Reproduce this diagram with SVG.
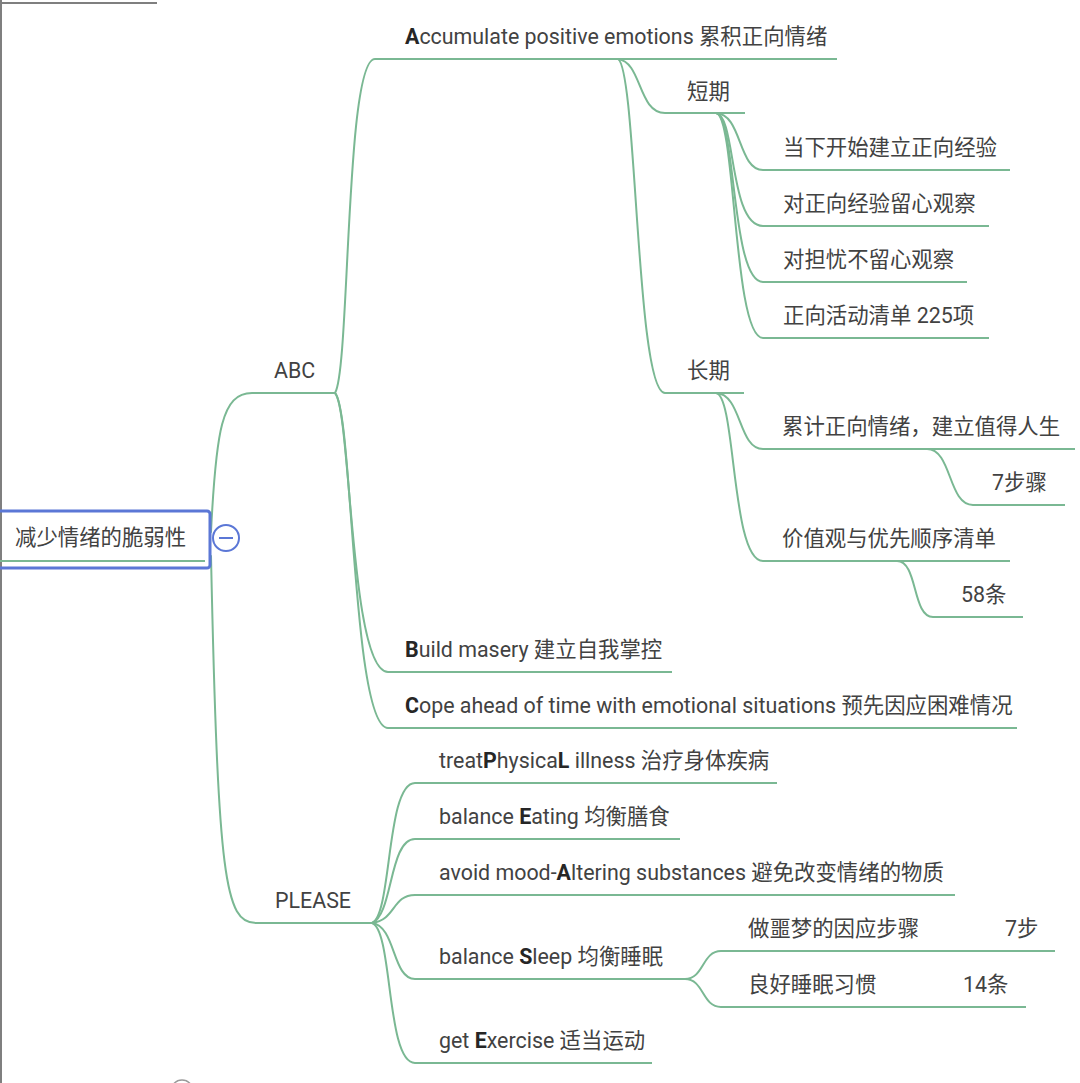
<svg xmlns="http://www.w3.org/2000/svg" width="1080" height="1083" viewBox="0 0 1080 1083">
  <style>
    .bg { fill: #ffffff; }
    .edge { fill: none; stroke: #7ab893; stroke-width: 2; stroke-linecap: round; }
    .line { stroke: #7ab893; stroke-width: 2; }
    .t { font-family: Roboto, "Noto Sans CJK SC", sans-serif; font-size: 21.4px; fill: #424242; }
    .b { font-weight: bold; fill: #262626; }
    .frame { stroke: #7f7f7f; stroke-width: 2; fill: none; }
  </style>

  <rect class="bg" x="0" y="0" width="1080" height="1083"/>

  <!-- canvas edges -->
  <line class="frame" x1="1" y1="0" x2="1" y2="1083"/>
  <line class="frame" x1="0" y1="3" x2="157" y2="3" stroke="#8a8a8a"/>
  <circle cx="182" cy="1091" r="11" fill="none" stroke="#9a9a9a" stroke-width="1.5"/>

  <!-- branch curves -->
  <g id="connectors">
    <path class="edge" d="M211,532 C216,430 222,393 252,393"/>
    <path class="edge" d="M211,556 C218,880 225,923 256,923"/>

    <path class="edge" d="M335,393 C350,370 345,59 375,59"/>
    <path class="edge" d="M335,393 C351,410 350,672 388,672"/>
    <path class="edge" d="M335,393 C353,410 352,728 388,728"/>

    <path class="edge" d="M618,59 C642,62 638,113 665,113"/>
    <path class="edge" d="M618,59 C637,70 636,393 665,393"/>

    <path class="edge" d="M716,113 C742,114 738,170 763,170"/>
    <path class="edge" d="M716,113 C736,115 729,226 763,226"/>
    <path class="edge" d="M716,113 C736,115 731,282 763,282"/>
    <path class="edge" d="M716,113 C736,115 733,338 763,338"/>

    <path class="edge" d="M716,393 C742,394 738,449 763,449"/>
    <path class="edge" d="M716,393 C736,395 731,561 763,561"/>

    <path class="edge" d="M927,449 C952,449 948,505 973,505"/>
    <path class="edge" d="M897,561 C918,561 912,617 933,617"/>

    <path class="edge" d="M372,923 C392,915 386,783 415,783"/>
    <path class="edge" d="M372,923 C393,915 389,839 415,839"/>
    <path class="edge" d="M372,923 C396,920 392,895 415,895"/>
    <path class="edge" d="M372,923 C396,926 392,979 415,979"/>
    <path class="edge" d="M372,923 C393,930 386,1063 415,1063"/>

    <path class="edge" d="M685,979 C704,979 702,951 721,951"/>
    <path class="edge" d="M685,979 C704,979 702,1007 721,1007"/>
  </g>

  <!-- central topic -->
  <g id="root">
    <line class="line" x1="0" y1="561" x2="205" y2="561"/>
    <rect x="-10" y="511" width="220" height="57" rx="3" fill="none" stroke="#5b77d6" stroke-width="3"/>
    <text class="t" x="15" y="545">减少情绪的脆弱性</text>
    <circle cx="226" cy="538" r="13" fill="#ffffff" stroke="#5b77d6" stroke-width="2"/>
    <line x1="219" y1="538" x2="233" y2="538" stroke="#5b77d6" stroke-width="2"/>
  </g>

  <g id="abc">
    <line class="line" x1="252" y1="393" x2="335" y2="393"/>
    <text class="t" x="274" y="378">ABC</text>
  </g>

  <g id="accumulate">
    <line class="line" x1="375" y1="59" x2="837" y2="59"/>
    <text class="t" x="405" y="44"><tspan class="b">A</tspan>ccumulate positive emotions 累积正向情绪</text>
  </g>

  <g id="short-term">
    <line class="line" x1="665" y1="113" x2="745" y2="113"/>
    <text class="t" x="687" y="99">短期</text>
  </g>
  <g id="st-1">
    <line class="line" x1="763" y1="170" x2="1010" y2="170"/>
    <text class="t" x="783" y="155">当下开始建立正向经验</text>
  </g>
  <g id="st-2">
    <line class="line" x1="763" y1="226" x2="989" y2="226"/>
    <text class="t" x="783" y="211">对正向经验留心观察</text>
  </g>
  <g id="st-3">
    <line class="line" x1="763" y1="282" x2="967" y2="282"/>
    <text class="t" x="783" y="267">对担忧不留心观察</text>
  </g>
  <g id="st-4">
    <line class="line" x1="763" y1="338" x2="989" y2="338"/>
    <text class="t" x="783" y="323">正向活动清单 225项</text>
  </g>

  <g id="long-term">
    <line class="line" x1="665" y1="393" x2="744" y2="393"/>
    <text class="t" x="687" y="378">长期</text>
  </g>
  <g id="lt-1">
    <line class="line" x1="763" y1="449" x2="1075" y2="449"/>
    <text class="t" x="782" y="434">累计正向情绪，建立值得人生</text>
  </g>
  <g id="lt-1-steps">
    <line class="line" x1="973" y1="505" x2="1065" y2="505"/>
    <text class="t" x="992" y="490">7步骤</text>
  </g>
  <g id="lt-2">
    <line class="line" x1="763" y1="561" x2="1010" y2="561"/>
    <text class="t" x="782" y="546">价值观与优先顺序清单</text>
  </g>
  <g id="lt-2-items">
    <line class="line" x1="933" y1="617" x2="1023" y2="617"/>
    <text class="t" x="961" y="602">58条</text>
  </g>

  <g id="build">
    <line class="line" x1="388" y1="672" x2="672" y2="672"/>
    <text class="t" x="405" y="657"><tspan class="b">B</tspan>uild masery 建立自我掌控</text>
  </g>
  <g id="cope">
    <line class="line" x1="388" y1="728" x2="1017" y2="728"/>
    <text class="t" x="405" y="713"><tspan class="b">C</tspan>ope ahead of time with emotional situations 预先因应困难情况</text>
  </g>

  <g id="please">
    <line class="line" x1="256" y1="923" x2="372" y2="923"/>
    <text class="t" x="275" y="908">PLEASE</text>
  </g>
  <g id="pl-physical">
    <line class="line" x1="415" y1="783" x2="777" y2="783"/>
    <text class="t" x="439" y="768">treat<tspan class="b">P</tspan>hysica<tspan class="b">L</tspan> illness 治疗身体疾病</text>
  </g>
  <g id="pl-eating">
    <line class="line" x1="415" y1="839" x2="680" y2="839"/>
    <text class="t" x="439" y="824">balance <tspan class="b">E</tspan>ating 均衡膳食</text>
  </g>
  <g id="pl-altering">
    <line class="line" x1="415" y1="895" x2="955" y2="895"/>
    <text class="t" x="439" y="880">avoid mood-<tspan class="b">A</tspan>ltering substances 避免改变情绪的物质</text>
  </g>
  <g id="pl-sleep">
    <line class="line" x1="415" y1="979" x2="685" y2="979"/>
    <text class="t" x="439" y="964">balance <tspan class="b">S</tspan>leep 均衡睡眠</text>
  </g>
  <g id="sl-nightmare">
    <line class="line" x1="721" y1="951" x2="1055" y2="951"/>
    <text class="t" x="748" y="936">做噩梦的因应步骤<tspan x="1005">7步</tspan></text>
  </g>
  <g id="sl-habits">
    <line class="line" x1="721" y1="1007" x2="1026" y2="1007"/>
    <text class="t" x="748" y="992">良好睡眠习惯<tspan x="963">14条</tspan></text>
  </g>
  <g id="pl-exercise">
    <line class="line" x1="415" y1="1063" x2="652" y2="1063"/>
    <text class="t" x="439" y="1048">get <tspan class="b">E</tspan>xercise 适当运动</text>
  </g>
</svg>
